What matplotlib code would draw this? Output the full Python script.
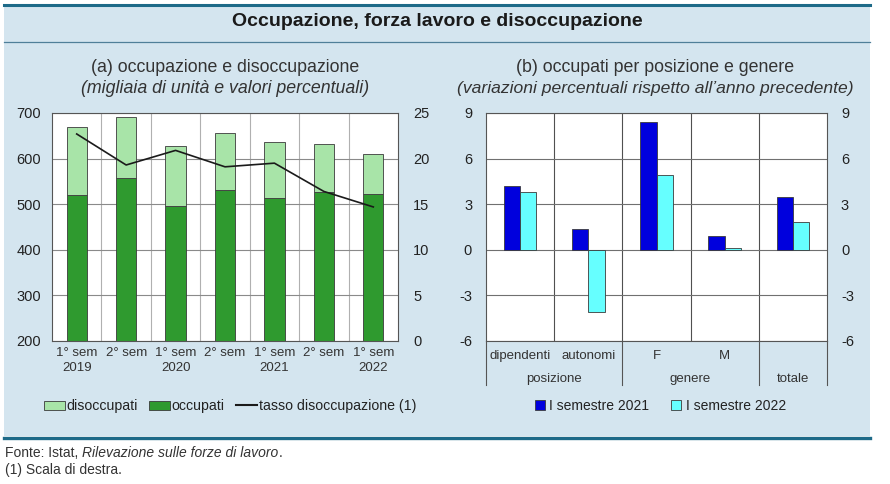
import numpy as np
import matplotlib
matplotlib.use('Agg')
import matplotlib.pyplot as plt
from matplotlib.patches import Rectangle, Patch
from matplotlib.lines import Line2D
import matplotlib.transforms as mtransforms

plt.rcParams['font.family'] = ['Liberation Sans', 'DejaVu Sans']
plt.rcParams['axes.unicode_minus'] = False

# left panel data (thousands of units, percent)
periods = ['1° sem\n2019', '2° sem', '1° sem\n2020', '2° sem', '1° sem\n2021', '2° sem', '1° sem\n2022']
occupati = [520, 557, 496, 531, 514, 527, 522]
disoccupati = [150, 135, 132, 126, 123, 106, 89]
tasso = [22.7, 19.3, 20.9, 19.1, 19.5, 16.4, 14.7]

# right panel data (percent changes)
categories = ['dipendenti', 'autonomi', 'F', 'M', '']
groups = ['posizione', 'genere', 'totale']
sem2021 = [4.2, 1.4, 8.4, 0.9, 3.5]
sem2022 = [3.8, -4.1, 4.9, 0.1, 1.8]

W, H = 890, 484
BG = '#d4e5ef'
DARK = '#1d6a88'
LGREEN = '#a8e4a8'
DGREEN = '#2f9a2f'
BLUE = '#0000dd'
CYAN = '#66ffff'
EDGE = '#3a3a3a'
GRID = '#8a8a8a'


def px(x0, y0, x1, y1):
    # pixel box (top-left origin) -> figure fraction rect
    return [x0 / W, 1 - y1 / H, (x1 - x0) / W, (y1 - y0) / H]


fig = plt.figure(figsize=(W / 100, H / 100), dpi=100)
fig.patch.set_facecolor('white')

# panel background and rules
fig.patches.append(Rectangle((4 / W, 1 - 436 / H), 866 / W, 431 / H,
                             transform=fig.transFigure, facecolor=BG, edgecolor='none', zorder=-5))
fig.add_artist(Line2D([4 / W, 870 / W], [1 - 5 / H, 1 - 5 / H], color=DARK, lw=2.2))
fig.add_artist(Line2D([4 / W, 870 / W], [1 - 42 / H, 1 - 42 / H], color='#4f7f99', lw=0.9))
fig.add_artist(Line2D([4 / W, 870 / W], [1 - 437.5 / H, 1 - 437.5 / H], color=DARK, lw=2.4))

fig.text(437 / W, 1 - 22 / H, 'Occupazione, forza lavoro e disoccupazione',
         ha='center', va='center', fontsize=14, fontweight='bold', color='#1a1a1a')

fig.text(225 / W, 1 - 68 / H, '(a) occupazione e disoccupazione', ha='center', va='center',
         fontsize=12.8, color='#333333')
fig.text(225 / W, 1 - 88 / H, '(migliaia di unità e valori percentuali)', ha='center', va='center',
         fontsize=12.8, style='italic', color='#333333')
fig.text(655 / W, 1 - 68 / H, '(b) occupati per posizione e genere', ha='center', va='center',
         fontsize=12.8, color='#333333')
fig.text(655 / W, 1 - 88 / H, '(variazioni percentuali rispetto all\u2019anno precedente)',
         ha='center', va='center', fontsize=12.6, style='italic', color='#333333')

# ---------- panel (a)
ax1 = fig.add_axes(px(52, 113, 398, 341))
ax1.set_facecolor('white')
x = np.arange(len(periods))
ax1.bar(x, occupati, width=0.41, color=DGREEN, edgecolor=EDGE, linewidth=0.6, zorder=2)
ax1.bar(x, disoccupati, width=0.41, bottom=occupati, color=LGREEN, edgecolor=EDGE,
        linewidth=0.6, zorder=2)
ax1.set_xlim(-0.5, len(periods) - 0.5)
ax1.set_ylim(200, 700)
ax1.set_yticks(np.arange(200, 701, 100))
ax1.set_xticks(x)
ax1.set_xticklabels(periods, fontsize=9.5, color='#333333', linespacing=1.35)
ax1.set_xticks(np.arange(0.5, len(periods) - 1, 1), minor=True)
ax1.tick_params(axis='x', which='both', length=0, pad=4)
ax1.tick_params(axis='y', length=0, pad=8, labelsize=10.5, labelcolor='#222222')
ax1.grid(axis='y', color=GRID, lw=0.8, zorder=1)
ax1.grid(axis='x', which='minor', color='#b0b0b0', lw=0.8, zorder=1)
ax1.set_axisbelow(True)
for s in ax1.spines.values():
    s.set_color('#555555')
    s.set_linewidth(0.8)

ax1b = ax1.twinx()
ax1b.plot(x, tasso, color='#1a1a1a', lw=1.2, zorder=3)
ax1b.set_ylim(0, 25)
ax1b.set_yticks(np.arange(0, 26, 5))
ax1b.tick_params(axis='y', length=0, pad=11, labelsize=10.5, labelcolor='#222222')
for s in ax1b.spines.values():
    s.set_visible(False)

h1 = [Patch(facecolor=LGREEN, edgecolor=EDGE, lw=0.6),
      Patch(facecolor=DGREEN, edgecolor=EDGE, lw=0.6),
      Line2D([], [], color='#1a1a1a', lw=1.5)]
fig.legend(h1, ['disoccupati', 'occupati', 'tasso disoccupazione (1)'],
           loc='center', bbox_to_anchor=(230 / W, 1 - 406 / H), ncol=3, frameon=False,
           fontsize=10.2, handlelength=1.5, handleheight=0.6, handletextpad=0.1,
           columnspacing=0.8, labelcolor='#222222')

# ---------- panel (b)
ax2 = fig.add_axes(px(486, 113, 827, 341))
ax2.set_facecolor('white')
xc = np.arange(len(categories))
ax2.bar(xc - 0.12, sem2021, width=0.24, color=BLUE, edgecolor=EDGE, linewidth=0.6, zorder=2)
ax2.bar(xc + 0.12, sem2022, width=0.24, color=CYAN, edgecolor=EDGE, linewidth=0.6, zorder=2)
ax2.set_xlim(-0.5, len(categories) - 0.5)
ax2.set_ylim(-6, 9)
ax2.set_yticks(np.arange(-6, 10, 3))
ax2.set_xticks([])
ax2.set_xticks(np.arange(0.5, len(categories) - 1, 1), minor=True)
ax2.tick_params(axis='x', which='both', length=0, labelbottom=False)
ax2.tick_params(axis='y', length=0, pad=10, labelsize=10.5, labelcolor='#222222',
                right=True, labelright=True)
ax2.grid(axis='y', color='#707070', lw=0.8, zorder=1)
ax2.grid(axis='x', which='minor', color='#505050', lw=0.8, zorder=1)
ax2.set_axisbelow(True)
for s in ax2.spines.values():
    s.set_color('#555555')
    s.set_linewidth(0.8)

# category table below the axis
tr = mtransforms.blended_transform_factory(ax2.transData, ax2.transAxes)
row1 = -15 / 228
row2 = -38 / 228
bottom = -44 / 228
for i, c in enumerate(categories):
    ax2.text(i, row1, c, transform=tr, ha='center', va='center', fontsize=9.5, color='#333333')
group_pos = [0.5, 2.5, 4]
for g, gx in zip(groups, group_pos):
    ax2.text(gx, row2, g, transform=tr, ha='center', va='center', fontsize=9.5, color='#333333')
for sx in [-0.5, 1.5, 3.5, 4.5]:
    ax2.add_line(Line2D([sx, sx], [0, bottom], transform=tr, color='#555555', lw=0.8,
                        clip_on=False))

h2 = [Line2D([], [], ls='none', marker='s', markersize=7, markerfacecolor=BLUE,
             markeredgecolor=EDGE, markeredgewidth=0.6),
      Line2D([], [], ls='none', marker='s', markersize=7, markerfacecolor=CYAN,
             markeredgecolor=EDGE, markeredgewidth=0.6)]
fig.legend(h2, ['I semestre 2021', 'I semestre 2022'],
           loc='center', bbox_to_anchor=(660 / W, 1 - 406 / H), ncol=2, frameon=False,
           fontsize=10, handlelength=0.8, handletextpad=0.3, columnspacing=1.5,
           labelcolor='#222222')

# footnotes
t1 = fig.text(5 / W, 1 - 453 / H, 'Fonte: Istat, ', ha='left', va='center', fontsize=10,
              color='#333333')
t2 = fig.add_artist(matplotlib.text.Annotation(
    'Rilevazione sulle forze di lavoro', xy=(1, 0), xycoords=t1, va='bottom',
    fontsize=10, style='italic', color='#333333', annotation_clip=False))
fig.add_artist(matplotlib.text.Annotation(
    '.', xy=(1, 0), xycoords=t2, va='bottom', fontsize=10, color='#333333',
    annotation_clip=False))
fig.text(5 / W, 1 - 470 / H, '(1) Scala di destra.', ha='left', va='center', fontsize=10,
         color='#333333')

fig.savefig('out.png', dpi=100, facecolor='white')
